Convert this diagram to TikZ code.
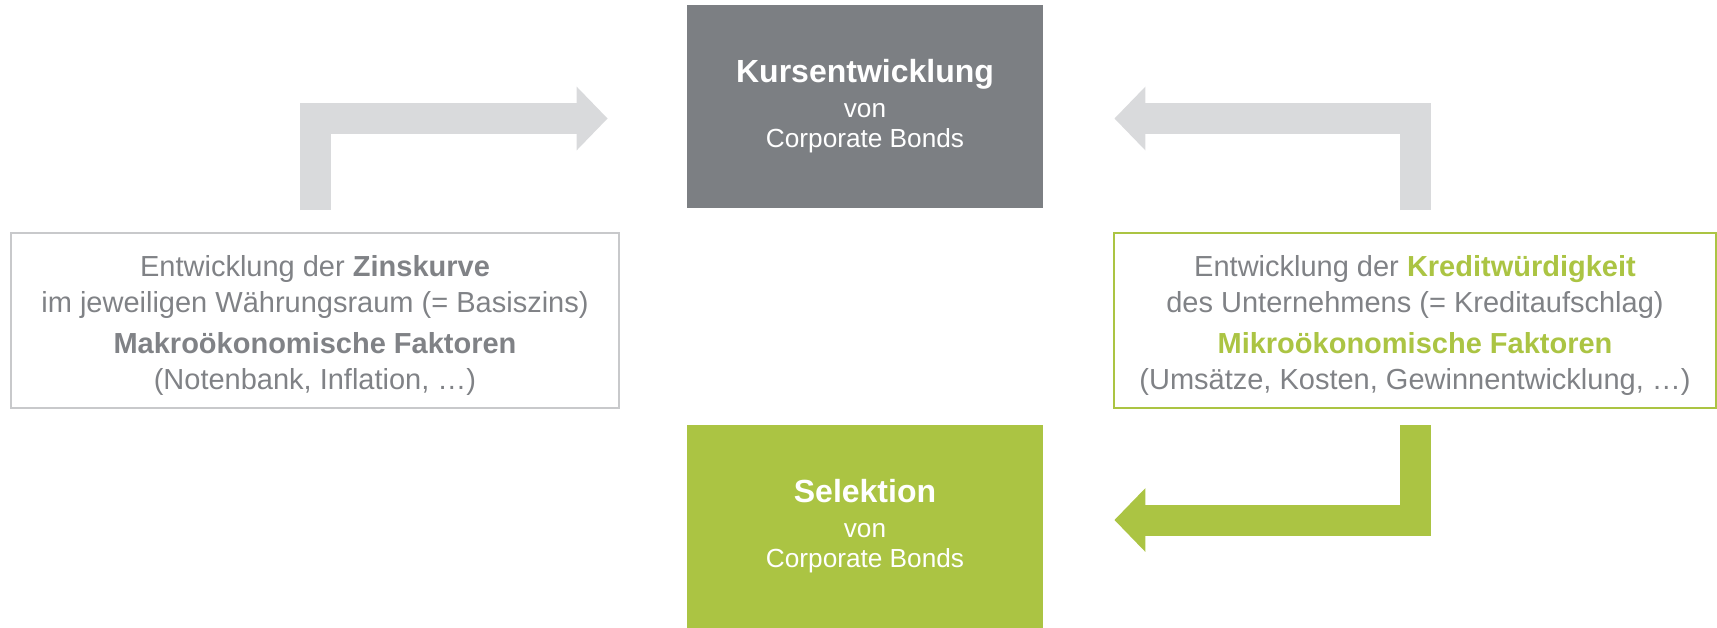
\documentclass[tikz,border=0pt]{standalone}
\usepackage{fontspec}
\setmainfont{Liberation Sans}
\usetikzlibrary{arrows.meta}
\definecolor{boxgray}{HTML}{7C7F83}
\definecolor{bondgreen}{HTML}{ABC443}
\definecolor{arrowgray}{HTML}{D9DADC}
\definecolor{framegray}{HTML}{C8C9CB}
\definecolor{textgray}{HTML}{808286}

\begin{document}
\begin{tikzpicture}[x=0.5pt, y=-0.5pt,
    bondbox/.style={minimum width=178pt, minimum height=101.5pt, inner sep=0pt,
        text=white, align=center, font=\fontsize{13.1}{15}\selectfont},
    factorbox/.style={draw, line width=1pt, minimum height=87.5pt, inner sep=0pt,
        text=textgray, align=center, font=\fontsize{14.5}{18}\selectfont},
    blockarrow/.style={line width=15.5pt, -{Triangle[length=15.5pt, width=31pt]}}]
    \useasboundingbox (0,0) rectangle (1717,627);
    % boxes
    \node [bondbox, fill=boxgray] (kurs) at (865,106.5)
        {{\fontsize{16}{17}\selectfont\bfseries Kursentwicklung}\\[2.5pt] von\\ Corporate Bonds};
    \node [bondbox, fill=bondgreen] (selek) at (865,526)
        {{\fontsize{16}{17}\selectfont\bfseries Selektion}\\[2.5pt] von\\ Corporate Bonds};
    \node [factorbox, draw=framegray, minimum width=304pt] (zins) at (315,320.5)
        {\rule{0pt}{15.8pt}Entwicklung der \textbf{Zinskurve}\\ im jeweiligen Währungsraum (= Basiszins)\\[2.5pt]
         \textbf{Makroökonomische Faktoren}\\ (Notenbank, Inflation, …)};
    \node [factorbox, draw=bondgreen, minimum width=301pt] (kredit) at (1415,320.5)
        {\rule{0pt}{15.8pt}Entwicklung der \textcolor{bondgreen}{\textbf{Kreditwürdigkeit}}\\ des Unternehmens (= Kreditaufschlag)\\[2.5pt]
         \textcolor{bondgreen}{\textbf{Mikroökonomische Faktoren}}\\ (Umsätze, Kosten, Gewinnentwicklung, …)};
    % arrows
    \draw [blockarrow, arrowgray, shorten >=39.5pt] ([yshift=11pt]zins.north) |- ([yshift=-6pt]kurs.west);
    \draw [blockarrow, arrowgray, shorten >=35.5pt] ([yshift=11pt]kredit.north) |- ([yshift=-6pt]kurs.east);
    \draw [blockarrow, bondgreen, shorten >=35.5pt] ([yshift=-8pt]kredit.south) |- ([yshift=3pt]selek.east);
\end{tikzpicture}
\end{document}
